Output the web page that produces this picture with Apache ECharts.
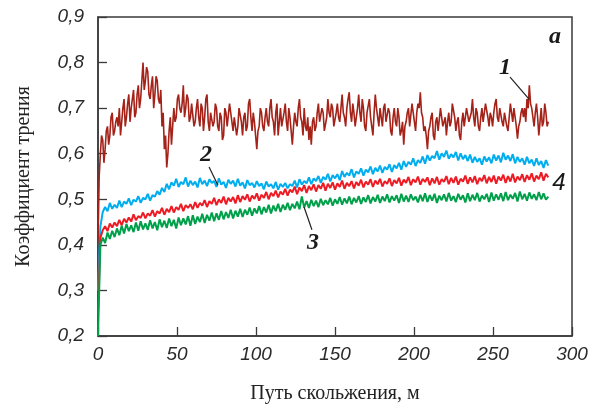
<!DOCTYPE html>
<html>
<head>
<meta charset="utf-8">
<script src="https://cdn.jsdelivr.net/npm/echarts@6/dist/echarts.min.js"></script>
<style>
html,body{margin:0;padding:0;background:#fff;}
#chart{width:601px;height:410px;}
</style>
</head>
<body>
<div id="chart"></div>
<script>
// Sampling steps along the sliding path (m)
const step1 = 0.75;
const step = 1.5;

// Series 1 (dark red)
const s1 = [
0.40,0.55,0.60,0.64,0.63,0.58,0.61,0.65,0.66,0.62,
0.64,0.68,0.69,0.64,0.65,0.67,0.68,0.66,0.70,0.64,
0.67,0.70,0.72,0.66,0.68,0.71,0.73,0.67,0.70,0.72,
0.74,0.68,0.69,0.73,0.75,0.70,0.72,0.76,0.80,0.74,
0.76,0.79,0.78,0.73,0.72,0.75,0.77,0.70,0.73,0.77,
0.76,0.72,0.71,0.74,0.66,0.69,0.61,0.64,0.57,0.60,
0.65,0.68,0.62,0.66,0.70,0.67,0.68,0.72,0.73,0.70,
0.69,0.71,0.75,0.68,0.70,0.73,0.72,0.67,0.68,0.71,
0.71,0.66,0.67,0.70,0.72,0.68,0.66,0.71,0.70,0.65,
0.68,0.72,0.73,0.67,0.65,0.69,0.69,0.66,0.67,0.71,
0.70,0.66,0.65,0.69,0.68,0.63,0.64,0.70,0.69,0.66,
0.66,0.71,0.71,0.67,0.65,0.68,0.68,0.64,0.66,0.70,
0.70,0.67,0.64,0.68,0.69,0.65,0.66,0.71,0.72,0.68,
0.65,0.69,0.67,0.64,0.61,0.65,0.66,0.70,0.69,0.66,
0.65,0.68,0.70,0.67,0.66,0.70,0.72,0.68,0.67,0.64,
0.69,0.71,0.64,0.67,0.70,0.66,0.66,0.69,0.71,0.67,
0.65,0.70,0.68,0.65,0.62,0.66,0.69,0.67,0.66,0.70,
0.72,0.68,0.67,0.64,0.70,0.66,0.65,0.68,0.63,0.66,
0.62,0.67,0.68,0.65,0.66,0.69,0.71,0.67,0.67,0.70,
0.69,0.65,0.65,0.68,0.72,0.69,0.68,0.71,0.70,0.66,
0.66,0.69,0.71,0.68,0.67,0.70,0.73,0.69,0.68,0.66,
0.70,0.72,0.735,0.69,0.67,0.71,0.69,0.66,0.66,0.70,
0.73,0.69,0.67,0.72,0.70,0.66,0.65,0.69,0.69,0.72,
0.68,0.66,0.64,0.69,0.73,0.70,0.68,0.66,0.70,0.68,
0.66,0.70,0.71,0.67,0.67,0.70,0.69,0.65,0.64,0.68,
0.70,0.67,0.66,0.70,0.68,0.64,0.65,0.67,0.62,0.66,
0.67,0.69,0.70,0.66,0.66,0.71,0.69,0.67,0.65,0.69,
0.71,0.70,0.735,0.69,0.68,0.65,0.66,0.64,0.61,0.65,
0.66,0.68,0.69,0.64,0.63,0.67,0.68,0.65,0.65,0.70,
0.70,0.66,0.66,0.68,0.64,0.67,0.69,0.66,0.67,0.71,
0.71,0.68,0.65,0.67,0.68,0.64,0.63,0.67,0.69,0.66,
0.66,0.70,0.70,0.67,0.67,0.69,0.72,0.68,0.66,0.70,
0.69,0.66,0.65,0.68,0.70,0.67,0.67,0.71,0.71,0.68,
0.66,0.69,0.68,0.66,0.69,0.71,0.72,0.68,0.67,0.70,
0.70,0.67,0.66,0.69,0.69,0.66,0.65,0.68,0.71,0.69,
0.67,0.70,0.68,0.66,0.633,0.66,0.67,0.69,0.70,0.68,
0.70,0.67,0.72,0.70,0.75,0.71,0.70,0.68,0.66,0.69,
0.71,0.68,0.64,0.67,0.70,0.66,0.67,0.71,0.69,0.66,
0.67
];

// Series 2 (blue)
const s2 = [
0.30,0.44,0.472,0.483,0.474,0.492,0.479,0.488,0.481,0.497,
0.483,0.495,0.49,0.502,0.487,0.499,0.495,0.507,0.492,0.503,
0.5,0.512,0.497,0.509,0.506,0.518,0.51,0.525,0.516,0.534,
0.522,0.537,0.53,0.545,0.527,0.538,0.533,0.548,0.528,0.541,
0.531,0.539,0.526,0.547,0.533,0.541,0.529,0.544,0.536,0.54,
0.527,0.546,0.532,0.538,0.525,0.543,0.534,0.541,0.528,0.545,
0.53,0.537,0.524,0.542,0.531,0.536,0.526,0.54,0.529,0.535,
0.522,0.539,0.528,0.533,0.524,0.538,0.521,0.534,0.527,0.536,
0.524,0.533,0.529,0.541,0.526,0.544,0.532,0.54,0.535,0.548,
0.533,0.546,0.54,0.551,0.536,0.549,0.543,0.556,0.539,0.553,
0.546,0.555,0.542,0.562,0.549,0.558,0.552,0.566,0.548,0.561,
0.556,0.568,0.552,0.565,0.559,0.572,0.555,0.569,0.561,0.574,
0.558,0.571,0.565,0.577,0.56,0.575,0.568,0.58,0.565,0.584,
0.571,0.582,0.576,0.59,0.573,0.586,0.58,0.594,0.578,0.597,
0.585,0.595,0.59,0.606,0.587,0.601,0.593,0.607,0.589,0.599,
0.592,0.604,0.585,0.601,0.588,0.597,0.584,0.598,0.58,0.593,
0.582,0.59,0.576,0.594,0.583,0.592,0.579,0.598,0.585,0.596,
0.581,0.602,0.587,0.596,0.584,0.599,0.579,0.593,0.582,0.59,
0.576,0.593,0.579,0.587,0.573,0.59,0.575,0.584,0.569,0.586,
0.574
];

// Series 4 (red)
const s4 = [
0.25,0.415,0.432,0.441,0.43,0.447,0.438,0.449,0.441,0.455,
0.443,0.457,0.449,0.46,0.451,0.467,0.454,0.463,0.459,0.471,
0.458,0.469,0.464,0.476,0.462,0.474,0.469,0.481,0.466,0.479,
0.472,0.485,0.471,0.483,0.477,0.49,0.474,0.487,0.481,0.489,
0.478,0.494,0.481,0.492,0.486,0.498,0.483,0.496,0.49,0.503,
0.487,0.5,0.492,0.506,0.489,0.503,0.495,0.505,0.491,0.509,
0.494,0.507,0.499,0.511,0.495,0.508,0.501,0.513,0.497,0.51,
0.503,0.516,0.5,0.514,0.507,0.519,0.504,0.517,0.51,0.523,
0.508,0.521,0.515,0.528,0.511,0.526,0.518,0.531,0.514,0.529,
0.52,0.533,0.517,0.531,0.523,0.536,0.519,0.534,0.525,0.537,
0.521,0.535,0.527,0.541,0.523,0.536,0.529,0.54,0.524,0.538,
0.53,0.543,0.526,0.539,0.532,0.544,0.527,0.541,0.533,0.545,
0.528,0.54,0.534,0.546,0.529,0.542,0.535,0.547,0.53,0.543,
0.536,0.549,0.531,0.544,0.537,0.55,0.532,0.545,0.538,0.548,
0.531,0.546,0.535,0.549,0.532,0.544,0.538,0.551,0.533,0.547,
0.536,0.55,0.532,0.545,0.539,0.552,0.534,0.548,0.537,0.551,
0.533,0.547,0.54,0.553,0.535,0.549,0.538,0.552,0.534,0.55,
0.541,0.554,0.536,0.551,0.539,0.556,0.537,0.55,0.542,0.555,
0.538,0.553,0.543,0.557,0.539,0.552,0.544,0.559,0.541,0.556,
0.548
];

// Series 3 (green)
const s3 = [
0.20,0.40,0.416,0.404,0.427,0.413,0.431,0.417,0.436,0.421,
0.442,0.425,0.446,0.43,0.443,0.428,0.449,0.431,0.452,0.434,
0.447,0.433,0.454,0.436,0.45,0.432,0.456,0.439,0.453,0.437,
0.458,0.441,0.455,0.436,0.46,0.443,0.458,0.445,0.463,0.442,
0.465,0.446,0.462,0.45,0.468,0.448,0.466,0.453,0.471,0.452,
0.469,0.455,0.474,0.456,0.472,0.459,0.477,0.458,0.475,0.462,
0.479,0.461,0.477,0.466,0.482,0.464,0.48,0.469,0.485,0.467,
0.483,0.471,0.488,0.469,0.486,0.474,0.49,0.472,0.488,0.477,
0.492,0.476,0.49,0.48,0.495,0.478,0.506,0.482,0.496,0.481,
0.499,0.485,0.497,0.483,0.501,0.487,0.498,0.489,0.503,0.486,
0.5,0.49,0.505,0.488,0.502,0.491,0.506,0.489,0.503,0.493,
0.507,0.49,0.504,0.494,0.509,0.491,0.505,0.495,0.51,0.492,
0.506,0.496,0.511,0.493,0.507,0.497,0.509,0.492,0.512,0.495,
0.508,0.494,0.511,0.498,0.506,0.493,0.51,0.496,0.513,0.494,
0.509,0.497,0.512,0.492,0.508,0.498,0.511,0.495,0.514,0.497,
0.507,0.494,0.512,0.499,0.509,0.493,0.513,0.496,0.51,0.498,
0.514,0.495,0.508,0.5,0.512,0.494,0.515,0.497,0.511,0.499,
0.513,0.496,0.516,0.498,0.51,0.501,0.514,0.495,0.517,0.5,
0.512,0.497,0.515,0.501,0.511,0.498,0.516,0.5,0.513,0.499,
0.506
];

// Axis ticks
const xTicks = [0, 50, 100, 150, 200, 250, 300];
const yTicks = [0.2, 0.3, 0.4, 0.5, 0.6, 0.7, 0.8, 0.9];

// Annotation labels (data coords) and leader lines
const labelTexts = ['1', '2', '3', '4', 'a'];
const labelPos = [[257.6, 0.788], [68.4, 0.597], [136, 0.404], [291.8, 0.536], [289.2, 0.856]];
const leaderLines = [
  [[260.8, 0.768], [272.8, 0.72]],
  [[70.3, 0.571], [75.9, 0.531]],
  [[130.4, 0.483], [135.4, 0.433]]
];

const colors = ['#a52219', '#00aeef', '#ed1c24', '#00a04a'];

function pairs(arr, st) { return arr.map((v, i) => [i * st, v]); }

const chart = echarts.init(document.getElementById('chart'), null, {renderer: 'canvas'});

const axisColor = '#3a3a3a';
const option = {
  animation: false,
  backgroundColor: '#fff',
  grid: {left: 98, right: 29, top: 17, bottom: 74, show: true, borderColor: axisColor, borderWidth: 1.5, backgroundColor: 'transparent'},
  xAxis: {
    type: 'value', min: xTicks[0], max: xTicks[xTicks.length - 1], interval: 50,
    name: 'Путь скольжения, м', nameLocation: 'middle', nameGap: 48,
    nameTextStyle: {fontFamily: 'Liberation Serif', fontSize: 20, color: '#222'},
    axisLine: {show: true, lineStyle: {color: axisColor, width: 1.5}},
    axisTick: {show: true, inside: true, length: 9, lineStyle: {color: axisColor, width: 1.3}},
    splitLine: {show: false},
    axisLabel: {margin: 9, fontFamily: 'Liberation Sans', fontStyle: 'italic', fontSize: 19, color: '#2b2b2b'}
  },
  yAxis: {
    type: 'value', min: yTicks[0], max: yTicks[yTicks.length - 1], interval: 0.1,
    name: 'Коэффициент трения', nameLocation: 'middle', nameGap: 64,
    nameTextStyle: {fontFamily: 'Liberation Serif', fontSize: 20, color: '#222'},
    axisLine: {show: true, lineStyle: {color: axisColor, width: 1.5}},
    axisTick: {show: true, inside: true, length: 9, lineStyle: {color: axisColor, width: 1.3}},
    splitLine: {show: false},
    axisLabel: {margin: 14, fontFamily: 'Liberation Sans', fontStyle: 'italic', fontSize: 19, color: '#2b2b2b',
      formatter: v => v.toFixed(1).replace('.', ',')}
  },
  series: [
    {name: '1', type: 'line', data: pairs(s1, step1), showSymbol: false, symbol: 'none', lineStyle: {color: colors[0], width: 1.6}, z: 2},
    {name: '2', type: 'line', data: pairs(s2, step), showSymbol: false, symbol: 'none', lineStyle: {color: colors[1], width: 2}, z: 3},
    {name: '4', type: 'line', data: pairs(s4, step), showSymbol: false, symbol: 'none', lineStyle: {color: colors[2], width: 2}, z: 4},
    {name: '3', type: 'line', data: pairs(s3, step), showSymbol: false, symbol: 'none', lineStyle: {color: colors[3], width: 2}, z: 5}
  ]
};
chart.setOption(option);

const px = p => chart.convertToPixel({gridIndex: 0}, p);
const graphics = [];
leaderLines.forEach(l => {
  const a = px(l[0]), b = px(l[1]);
  graphics.push({type: 'line', shape: {x1: a[0], y1: a[1], x2: b[0], y2: b[1]}, style: {stroke: '#222', lineWidth: 1.2}, z: 10});
});
labelTexts.forEach((t, i) => {
  const p = px(labelPos[i]);
  const isSans = t === '4';
  graphics.push({type: 'text', x: p[0], y: p[1], z: 10, style: {
    text: t, align: 'center', verticalAlign: 'middle', fill: '#1a1a1a',
    font: isSans ? 'italic 24px "Liberation Sans"' : 'italic bold 24px "Liberation Serif"'
  }});
});
chart.setOption({graphic: graphics});
</script>
</body>
</html>
